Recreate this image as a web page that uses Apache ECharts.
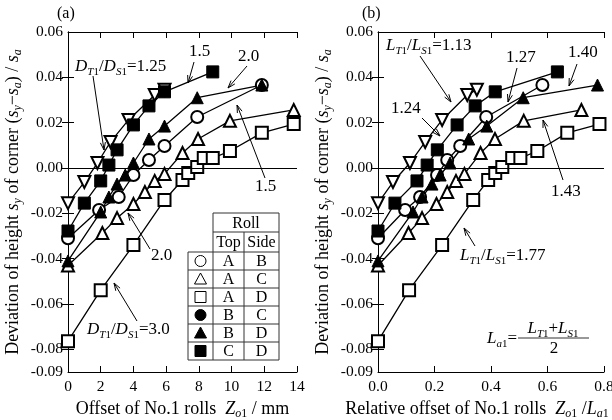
<!DOCTYPE html>
<html>
<head>
<meta charset="UTF-8">
<title>Offset of No.1 rolls</title>
<style>
  html, body { margin: 0; padding: 0; background: #fff; }
  #chart { width: 612px; height: 420px; }
</style>
</head>
<body>
<div id="chart"></div>
<script src="https://cdn.jsdelivr.net/npm/echarts@6/dist/echarts.min.js"></script>
<script>
// ---- data ----
// (a) offset Zo1 / mm
var aCircleX = [0, 1.9, 3.1, 4.0, 4.95, 5.9, 7.9, 11.85];
var aCircleY = [-0.031, -0.0185, -0.0128, -0.0031, 0.0035, 0.0097, 0.0225, 0.0366];
var aTriX = [0, 2.1, 3.0, 4.0, 4.7, 5.3, 5.9, 7.0, 7.95, 9.9, 13.8];
var aTriY = [-0.043, -0.0287, -0.0221, -0.0159, -0.0106, -0.0057, -0.0026, 0.0066, 0.0128, 0.0208, 0.0256];
var aSqX = [0, 2.0, 4.0, 5.9, 7.0, 7.35, 7.9, 8.3, 8.85, 9.9, 11.85, 13.8];
var aSqY = [-0.0764, -0.0539, -0.034, -0.0141, -0.0053, -0.0022, 0.0004, 0.0044, 0.0044, 0.0075, 0.0155, 0.0194];
var aFTriX = [0, 2.0, 2.5, 3.0, 3.5, 4.0, 4.95, 5.9, 7.9, 11.85];
var aFTriY = [-0.041, -0.0194, -0.0128, -0.0071, -0.0031, 0.0022, 0.0128, 0.0185, 0.031, 0.0366];
var aFSqX = [0, 1.0, 2.0, 2.5, 3.0, 4.0, 4.95, 5.9, 8.85];
var aFSqY = [-0.0278, -0.0155, -0.0057, 0.0013, 0.008, 0.019, 0.0274, 0.0336, 0.0424];
var aInvX = [0, 1.0, 1.8, 2.6, 3.7, 5.3, 5.9];
var aInvY = [-0.0155, -0.0062, 0.0022, 0.0115, 0.0212, 0.0322, 0.0345];

// (b) relative offset Zo1 / La1
var bCircleX = [0, 0.096, 0.149, 0.209, 0.245, 0.291, 0.383, 0.582];
var bTriX = [0, 0.108, 0.156, 0.207, 0.245, 0.276, 0.306, 0.363, 0.414, 0.516, 0.72];
var bSqX = [0, 0.11, 0.227, 0.337, 0.39, 0.415, 0.44, 0.475, 0.504, 0.564, 0.67, 0.784];
var bFTriX = [0, 0.124, 0.156, 0.191, 0.22, 0.255, 0.321, 0.385, 0.514, 0.777];
var bFSqX = [0, 0.06, 0.138, 0.174, 0.21, 0.28, 0.344, 0.415, 0.635];
var bInvX = [0, 0.053, 0.113, 0.167, 0.227, 0.316, 0.35];

var yLabels = [-0.09, -0.08, -0.06, -0.04, -0.02, 0, 0.02, 0.04, 0.06];
var yTicks = [-0.08, -0.06, -0.04, -0.02, 0, 0.02, 0.04];
var rollRows = [['A', 'B'], ['A', 'C'], ['A', 'D'], ['B', 'C'], ['B', 'D'], ['C', 'D']];

var FONT = 'Liberation Serif';
function richSet(big, small) {
  return {
    n: { fontFamily: FONT, fontSize: big, color: '#000', lineHeight: big + 4 },
    i: { fontFamily: FONT, fontSize: big, fontStyle: 'italic', color: '#000', lineHeight: big + 4 },
    si: { fontFamily: FONT, fontSize: small, fontStyle: 'italic', color: '#000', verticalAlign: 'bottom', lineHeight: small + 1 },
    s: { fontFamily: FONT, fontSize: small, color: '#000', verticalAlign: 'bottom', lineHeight: small + 1 }
  };
}
var richName = richSet(18, 12);
var richNote = richSet(17, 11);
var richTab = richSet(16, 11);

function pairs(xs, ys) {
  return xs.map(function (x, i) { return [x, ys[i]]; });
}

function mkSeries(idx, xs, ys, symbol, rot) {
  return {
    type: 'line', xAxisIndex: idx, yAxisIndex: idx,
    data: pairs(xs, ys),
    symbol: symbol, symbolSize: 12, symbolRotate: rot || 0,
    lineStyle: { color: '#000', width: 1.3 },
    itemStyle: { color: '#000', borderColor: '#000', borderWidth: 1 },
    emphasis: { disabled: true },
    silent: true
  };
}

function xAxes(idx, max, interval, dec, name, shift) {
  var base = {
    gridIndex: idx, type: 'value', min: 0, max: max, interval: interval,
    axisLine: { onZero: false, lineStyle: { color: '#000', width: 1 } },
    axisTick: { inside: true, length: 6, lineStyle: { color: '#000' } },
    splitLine: { show: false }
  };
  var bottom = Object.assign({}, base, {
    position: 'bottom',
    axisLabel: { color: '#000', fontFamily: FONT, fontSize: 15.5, margin: 7,
      formatter: function (v) { return v.toFixed(dec); } },
    name: name, nameLocation: 'middle', nameGap: 22,
    nameTextStyle: { rich: richName, padding: [0, shift || 0, 0, 0] }
  });
  var top = Object.assign({}, base, { position: 'top', axisLabel: { show: false } });
  return [bottom, top];
}

function yAxes(idx) {
  var base = {
    gridIndex: idx, type: 'value', min: -0.09, max: 0.06,
    axisLine: { lineStyle: { color: '#000', width: 1 } },
    axisTick: { inside: true, length: 6, customValues: yTicks, lineStyle: { color: '#000' } },
    splitLine: { show: false }
  };
  var left = Object.assign({}, base, {
    position: 'left',
    axisLabel: { color: '#000', fontFamily: FONT, fontSize: 15.5, margin: 5, customValues: yLabels,
      formatter: function (v) { return v.toFixed(2); } },
    name: '{n|Deviation of height }{i|s}{si|y}{n| of corner (}{i|s}{si|y}{n|\u2212}{i|s}{si|a}{n|) / }{i|s}{si|a}',
    nameLocation: 'middle', nameRotate: 90, nameGap: 44,
    nameTextStyle: { rich: richName }
  });
  var right = Object.assign({}, base, { position: 'right', axisLabel: { show: false } });
  return [left, right];
}

var xa = xAxes(0, 14, 2, 0, '{n|Offset of No.1 rolls  }{i|Z}{si|o}{s|1}{n| / mm}');
var xb = xAxes(1, 0.8, 0.2, 1, '{n|Relative offset of No.1 rolls  }{i|Z}{si|o}{s|1}{n| /}{i|L}{si|a}{s|1}', 28);
var ya = yAxes(0), yb = yAxes(1);

var zeroLine = {
  silent: true, symbol: 'none', label: { show: false },
  lineStyle: { color: '#000', width: 1, type: 'solid' },
  data: [{ yAxis: 0 }]
};

// order matters for overlap: open first, filled on top
var series = [
  mkSeries(0, aSqX, aSqY, 'emptyRect'),
  mkSeries(0, aTriX, aTriY, 'emptyTriangle'),
  mkSeries(0, aInvX, aInvY, 'emptyTriangle', 180),
  mkSeries(0, aCircleX, aCircleY, 'emptyCircle'),
  mkSeries(0, aFTriX, aFTriY, 'triangle'),
  mkSeries(0, aFSqX, aFSqY, 'rect'),
  mkSeries(2, bSqX, aSqY, 'emptyRect'),
  mkSeries(2, bTriX, aTriY, 'emptyTriangle'),
  mkSeries(2, bInvX, aInvY, 'emptyTriangle', 180),
  mkSeries(2, bCircleX, aCircleY, 'emptyCircle'),
  mkSeries(2, bFTriX, aFTriY, 'triangle'),
  mkSeries(2, bFSqX, aFSqY, 'rect')
];
series[0].markLine = zeroLine;
series[6].markLine = zeroLine;

// annotations
function arrow(x1, y1, x2, y2) {
  var a = Math.atan2(y2 - y1, x2 - x1), L = 8, w = 0.32;
  return [
    { type: 'line', shape: { x1: x1, y1: y1, x2: x2, y2: y2 }, style: { stroke: '#000', lineWidth: 1 }, silent: true },
    { type: 'polyline', silent: true,
      shape: { points: [[x2 - L * Math.cos(a - w), y2 - L * Math.sin(a - w)], [x2, y2],
                        [x2 - L * Math.cos(a + w), y2 - L * Math.sin(a + w)]] },
      style: { stroke: '#000', fill: null, lineWidth: 1 } }
  ];
}
function txt(x, y, s, align, rs) {
  return { type: 'text', x: x, y: y, silent: true, z: 10,
    style: { text: s, rich: rs || richNote, fill: '#000', font: '17px ' + FONT,
      align: align || 'left', verticalAlign: 'middle' } };
}
function line(x1, y1, x2, y2) {
  return { type: 'line', silent: true, shape: { x1: x1, y1: y1, x2: x2, y2: y2 },
    style: { stroke: '#333', lineWidth: 1 } };
}

var g = [];
g = g.concat(
  txt(75, 67, '{i|D}{si|T}{s|1}{n|/}{i|D}{si|S}{s|1}{n|=1.25}'), arrow(93, 76, 104, 150),
  txt(189, 52, '{n|1.5}'), arrow(194, 62, 188, 83),
  txt(238, 57, '{n|2.0}'), arrow(247, 66, 228, 88),
  txt(255, 187, '{n|1.5}'), arrow(265, 178, 237, 105),
  txt(151, 256, '{n|2.0}'), arrow(150, 249, 128, 213),
  txt(87, 330, '{i|D}{si|T}{s|1}{n|/}{i|D}{si|S}{s|1}{n|=3.0}'), arrow(137, 321, 114, 283),
  txt(386, 46, '{i|L}{si|T}{s|1}{n|/}{i|L}{si|S}{s|1}{n|=1.13}'), arrow(420, 56, 451, 102),
  txt(391, 109, '{n|1.24}'), arrow(422, 118, 440, 136),
  txt(506, 58, '{n|1.27}'), arrow(517, 68, 508, 102),
  txt(568, 53, '{n|1.40}'), arrow(577, 64, 569, 86),
  txt(551, 192, '{n|1.43}'), arrow(563, 180, 543, 120),
  txt(460, 256, '{i|L}{si|T}{s|1}{n|/}{i|L}{si|S}{s|1}{n|=1.77}'), arrow(475, 246, 464, 228),
  txt(517, 339, '{i|L}{si|a}{s|1}{n|=}', 'right'),
  txt(553, 329, '{i|L}{si|T}{s|1}{n|+}{i|L}{si|S}{s|1}', 'center'),
  line(518, 338, 589, 338),
  txt(554, 349, '{n|2}', 'center')
);

// roll table
var tx0 = 188, tx1 = 213, tx2 = 244, tx3 = 279, ty0 = 213, ty1 = 232, ty2 = 252, rh = 18;
g.push(line(tx1, ty0, tx3, ty0), line(tx1, ty0, tx1, ty2), line(tx3, ty0, tx3, ty2),
       line(tx1, ty1, tx3, ty1), line(tx2, ty1, tx2, ty2 + rh * 6));
g.push(line(tx0, ty2, tx3, ty2), line(tx0, ty2, tx0, ty2 + rh * 6), line(tx3, ty2, tx3, ty2 + rh * 6),
       line(tx1, ty2, tx1, ty2 + rh * 6));
for (var r = 1; r <= 6; r++) g.push(line(tx0, ty2 + rh * r, tx3, ty2 + rh * r));
g.push(txt((tx1 + tx3) / 2, (ty0 + ty1) / 2 + 1, '{n|Roll}', 'center', richTab),
       txt((tx1 + tx2) / 2, (ty1 + ty2) / 2 + 1, '{n|Top}', 'center', richTab),
       txt((tx2 + tx3) / 2, (ty1 + ty2) / 2 + 1, '{n|Side}', 'center', richTab));
var symCx = (tx0 + tx1) / 2;
rollRows.forEach(function (row, i) {
  var cy = ty2 + rh * i + rh / 2;
  var filled = i >= 3, kind = i % 3;
  var st = { stroke: '#000', fill: filled ? '#000' : '#fff', lineWidth: 1 };
  if (kind === 0) g.push({ type: 'circle', silent: true, shape: { cx: symCx, cy: cy, r: 5.5 }, style: st });
  if (kind === 1) g.push({ type: 'polygon', silent: true, shape: { points: [[symCx, cy - 6], [symCx + 6, cy + 5], [symCx - 6, cy + 5]] }, style: st });
  if (kind === 2) g.push({ type: 'rect', silent: true, shape: { x: symCx - 5.5, y: cy - 5.5, width: 11, height: 11 }, style: st });
  g.push(txt((tx1 + tx2) / 2, cy + 1, '{n|' + row[0] + '}', 'center', richTab),
         txt((tx2 + tx3) / 2, cy + 1, '{n|' + row[1] + '}', 'center', richTab));
});

var chart = echarts.init(document.getElementById('chart'));
chart.setOption({
  animation: false,
  backgroundColor: '#fff',
  title: [
    { text: '(a)', left: 52, top: 1, textStyle: { fontFamily: FONT, fontSize: 16, fontWeight: 'normal', color: '#000' } },
    { text: '(b)', left: 357, top: 1, textStyle: { fontFamily: FONT, fontSize: 16, fontWeight: 'normal', color: '#000' } }
  ],
  grid: [
    { left: 68, right: 315, top: 32, bottom: 48, outerBoundsMode: 'none' },
    { left: 378, right: 8, top: 32, bottom: 48, outerBoundsMode: 'none' }
  ],
  xAxis: [xa[0], xa[1], xb[0], xb[1]],
  yAxis: [ya[0], ya[1], yb[0], yb[1]],
  series: series,
  graphic: g
});
</script>
</body>
</html>
